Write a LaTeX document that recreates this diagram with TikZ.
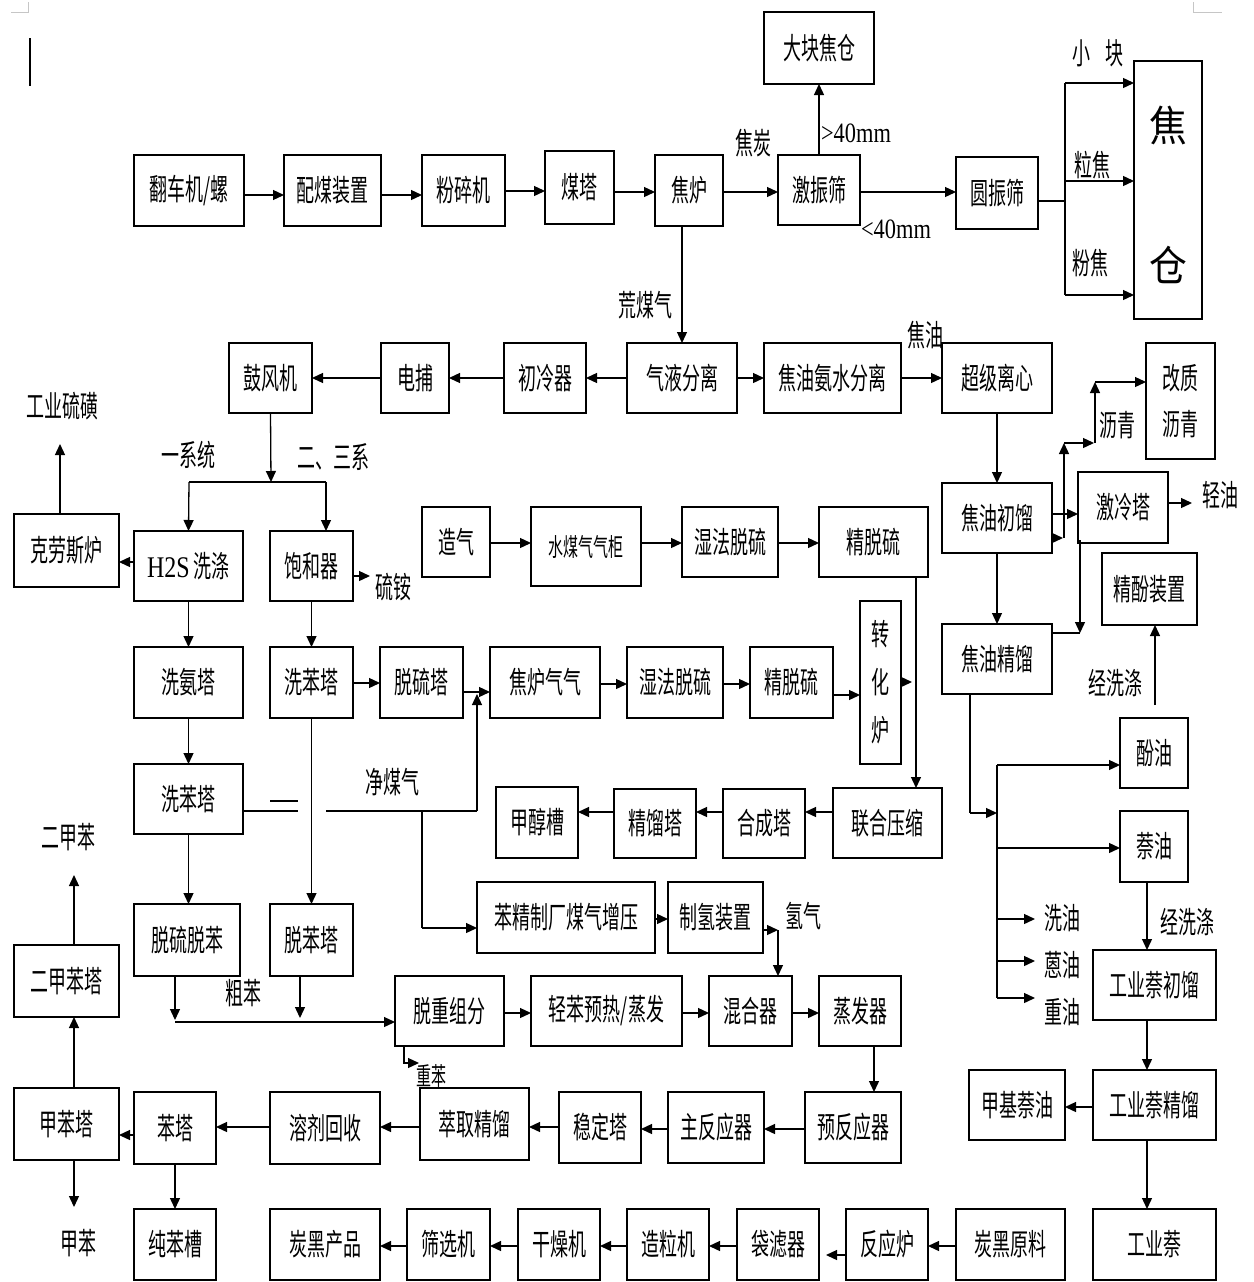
\documentclass[tikz,border=0pt]{standalone}
\usepackage{fontspec}
\setmainfont{Noto Sans CJK SC}[FakeStretch=0.6]
\newfontfamily\bigcjk{Noto Sans CJK SC}[FakeStretch=0.9]
\newfontfamily\ser{Liberation Serif}[FakeStretch=0.8]
\usetikzlibrary{arrows.meta}
\tikzset{
  box/.style={draw,line width=1.3pt,inner sep=0pt,outer sep=0pt,font=\fontsize{30}{32}\selectfont,align=center},
  arr/.style={line width=1.3pt,-{Triangle[length=11pt,width=10pt]}},
  ln/.style={line width=1.3pt},
  lbl/.style={font=\fontsize{30}{32}\selectfont,inner sep=0pt}
}
\newcommand{\bx}[6]{\node[box,minimum width={(#4-#2)*1pt},minimum height={(#5-#3)*1pt}] (#1) at ({(#2+#4)/2},{(#3+#5)/2}) {#6};}
\begin{document}
\begin{tikzpicture}[x=1pt,y=-1pt]
\useasboundingbox (0,0) rectangle (1253,1282);
% page marks
\draw[gray!45,line width=1pt] (11,12) -- (28,12) -- (28,2);
\draw[gray!45,line width=1pt] (1193,2) -- (1193,12) -- (1222,12);
\draw[line width=2pt] (30,38) -- (30,86);
% top row
\bx{fc}{134}{155}{244}{226}{翻车机/螺}
\bx{pm}{284}{155}{381}{226}{配煤装置}
\bx{fs}{422}{155}{505}{226}{粉碎机}
\bx{mt}{545}{151}{614}{224}{煤塔}
\bx{jl}{655}{155}{723}{226}{焦炉}
\bx{jzs}{778}{155}{860}{225}{激振筛}
\bx{dkj}{764}{12}{874}{84}{大块焦仓}
\bx{yzs}{956}{157}{1038}{229}{圆振筛}
\bx{jc}{1134}{61}{1202}{319}{}
\node[inner sep=0pt,font=\bigcjk\fontsize{42}{44}\selectfont] (jct1) at (1168,125) {焦};
\node[inner sep=0pt,font=\bigcjk\fontsize{42}{44}\selectfont] (jct2) at (1168,265) {仓};
% row 2
\bx{gfj}{229}{343}{312}{413}{鼓风机}
\bx{db}{381}{343}{449}{413}{电捕}
\bx{clq}{504}{343}{586}{413}{初冷器}
\bx{qyfl}{627}{343}{737}{413}{气液分离}
\bx{jyas}{764}{343}{901}{413}{焦油氨水分离}
\bx{cjlx}{942}{343}{1052}{413}{超级离心}
\node[box,minimum width=69pt,minimum height=116pt,font=\fontsize{30}{46}\selectfont] (gzlq) at (1180.5,401) {改质\\沥青};
% row 3
\bx{kls}{14}{514}{119}{587}{克劳斯炉}
\bx{h2s}{134}{531}{243}{601}{{\ser H2S} 洗涤}
\bx{bhq}{270}{531}{353}{601}{饱和器}
\bx{zq}{422}{507}{490}{577}{造气}
\node[box,minimum width=110pt,minimum height=79pt,font=\fontsize{25}{27}\selectfont] (smq) at (586,546.5) {水煤气气柜};
\bx{sf1}{682}{507}{778}{577}{湿法脱硫}
\bx{jts1}{819}{507}{928}{577}{精脱硫}
\bx{jycl}{942}{483}{1052}{553}{焦油初馏}
\bx{jlt}{1078}{472}{1168}{543}{激冷塔}
\bx{jfz}{1102}{553}{1197}{625}{精酚装置}
% row 4
\bx{xat}{134}{647}{243}{718}{洗氨塔}
\bx{xbt1}{270}{647}{353}{718}{洗苯塔}
\bx{tlt}{380}{647}{463}{718}{脱硫塔}
\bx{jlqq}{490}{647}{600}{718}{焦炉气气}
\bx{sf2}{627}{647}{723}{718}{湿法脱硫}
\bx{jts2}{750}{647}{833}{718}{精脱硫}
\node[box,minimum width=41pt,minimum height=163pt,font=\fontsize{30}{48}\selectfont] (zhl) at (880.5,682.5) {转\\化\\炉};
\bx{jyjl}{942}{624}{1052}{694}{焦油精馏}
% row 5
\bx{xbt2}{134}{764}{243}{834}{洗苯塔}
\bx{jcc}{496}{787}{578}{858}{甲醇槽}
\bx{jlt2}{614}{789}{696}{858}{精馏塔}
\bx{hct}{723}{789}{805}{858}{合成塔}
\bx{lhys}{833}{788}{942}{858}{联合压缩}
\bx{fy}{1120}{718}{1188}{788}{酚油}
\bx{ny}{1120}{811}{1188}{882}{萘油}
% row 6
\bx{bjz}{477}{882}{655}{953}{苯精制厂煤气增压}
\bx{zqz}{668}{882}{763}{953}{制氢装置}
\bx{tltb}{134}{904}{240}{976}{脱硫脱苯}
\bx{tbt}{270}{904}{353}{976}{脱苯塔}
\bx{ejbt}{14}{945}{119}{1017}{二甲苯塔}
\bx{gyc}{1093}{950}{1216}{1020}{工业萘初馏}
% row 7
\bx{tzz}{395}{976}{504}{1046}{脱重组分}
\bx{qbyr}{531}{976}{682}{1046}{轻苯预热/蒸发}
\bx{hhq}{709}{976}{792}{1046}{混合器}
\bx{zfq}{819}{976}{901}{1046}{蒸发器}
% row 8
\bx{jbt}{14}{1088}{119}{1160}{甲苯塔}
\bx{bt}{134}{1092}{216}{1164}{苯塔}
\bx{rjhs}{270}{1092}{380}{1164}{溶剂回收}
\bx{cqjl}{420}{1088}{529}{1160}{萃取精馏}
\bx{wdt}{559}{1092}{641}{1163}{稳定塔}
\bx{zfy}{668}{1092}{764}{1163}{主反应器}
\bx{yfy}{805}{1092}{901}{1163}{预反应器}
\bx{jjny}{969}{1070}{1065}{1140}{甲基萘油}
\bx{gyj}{1093}{1070}{1216}{1140}{工业萘精馏}
% row 9
\bx{cbt}{134}{1209}{216}{1280}{纯苯槽}
\bx{thcp}{270}{1209}{380}{1280}{炭黑产品}
\bx{sxj}{407}{1209}{490}{1280}{筛选机}
\bx{gzj}{518}{1209}{600}{1280}{干燥机}
\bx{zlj}{627}{1209}{709}{1280}{造粒机}
\bx{dlq}{737}{1209}{819}{1280}{袋滤器}
\bx{fyl}{846}{1209}{928}{1280}{反应炉}
\bx{thyl}{956}{1209}{1065}{1280}{炭黑原料}
\bx{gyn}{1093}{1209}{1216}{1280}{工业萘}
% labels
\node[lbl] (l1) at (753,143) {焦炭};
\node[lbl,font=\ser\fontsize{28}{30}\selectfont] (l2) at (856,133) {>40mm};
\node[lbl,font=\ser\fontsize{28}{30}\selectfont] (l3) at (896,229) {<40mm};
\node[lbl] (l4) at (1098,53) {小\hspace{16pt}块};
\node[lbl] (l5) at (1092,165) {粒焦};
\node[lbl] (l6) at (1090,263) {粉焦};
\node[lbl] (l7) at (645,305) {荒煤气};
\node[lbl] (l8) at (925,335) {焦油};
\node[lbl] (l9) at (62,406) {工业硫磺};
\node[lbl] (l10) at (188,455) {一系统};
\node[lbl] (l11) at (333,457) {二、三系};
\node[lbl] (l12) at (393,587) {硫铵};
\node[lbl] (l13) at (1117,425) {沥青};
\node[lbl] (l14) at (1220,495) {轻油};
\node[lbl] (l15) at (1115,683) {经洗涤};
\node[lbl] (l16) at (392,782) {净煤气};
\node[lbl] (l17) at (68,837) {二甲苯};
\node[lbl] (l18) at (803,916) {氢气};
\node[lbl] (l19) at (1187,922) {经洗涤};
\node[lbl] (l20) at (1062,918) {洗油};
\node[lbl] (l21) at (1062,965) {蒽油};
\node[lbl] (l22) at (1062,1012) {重油};
\node[lbl] (l23) at (243,993) {粗苯};
\node[lbl,font=\fontsize{25}{27}\selectfont] (l24) at (431,1076) {重苯};
\node[lbl] (l25) at (78,1243) {甲苯};
% coordinates
\coordinate (busJ) at (1065,201);
\coordinate (splitG) at (271,482);
\coordinate (hub) at (997,813);
% top connectors
\draw[arr] (fc.east |- 0,195) -- (pm.west |- 0,195);
\draw[arr] (pm.east |- 0,195) -- (fs.west |- 0,195);
\draw[arr] (fs.east |- 0,191) -- (mt.west |- 0,191);
\draw[arr] (mt.east |- 0,192) -- (jl.west |- 0,192);
\draw[arr] (jl.east |- 0,192) -- (jzs.west |- 0,192);
\draw[arr] (jzs.north) -- (dkj.south);
\draw[arr] (jzs.east |- 0,192) -- (yzs.west |- 0,192);
\draw[ln] (yzs.east |- busJ) -- (busJ);
\draw[ln] (1065,83) -- (1065,295);
\draw[arr] (1065,83) -- (jc.west |- 0,83);
\draw[arr] (1065,181) -- (jc.west |- 0,181);
\draw[arr] (1065,295) -- (jc.west |- 0,295);
\draw[arr] (jl.south -| qyfl.north) -- (qyfl.north);
% row 2
\draw[arr] (qyfl.west) -- (clq.east);
\draw[arr] (clq.west) -- (db.east);
\draw[arr] (db.west) -- (gfj.east);
\draw[arr] (qyfl.east) -- (jyas.west);
\draw[arr] (jyas.east) -- (cjlx.west);
\draw[arr] (cjlx.south) -- (jycl.north);
% blower split
\draw[arr] (gfj.south) -- (splitG);
\draw[ln] (189,482) -- (326,482);
\draw[arr] (189,482) -- (h2s.north);
\draw[arr] (326,482) -- (bhq.north -| 326,0);
\draw[arr] (h2s.west |- 0,562) -- (kls.east |- 0,562);
\draw[arr] (kls.north -| 60,0) -- (60,444);
\draw[arr] (bhq.east |- 0,576) -- (370,576);
\draw[arr] (h2s.south) -- (xat.north);
\draw[arr] (bhq.south) -- (xbt1.north);
\draw[arr] (xat.south) -- (xbt2.north);
\draw[arr] (xbt2.south) -- (tltb.north -| xbt2.south);
\draw[arr] (xbt1.south) -- (tbt.north -| xbt1.south);
% row 3 gas
\draw[arr] (zq.east |- 0,543) -- (smq.west |- 0,543);
\draw[arr] (smq.east |- 0,543) -- (sf1.west |- 0,543);
\draw[arr] (sf1.east |- 0,543) -- (jts1.west |- 0,543);
\draw[arr] (jts1.south -| 916,0) -- (lhys.north -| 916,0);
% row 4
\draw[arr] (xbt1.east |- 0,683) -- (tlt.west |- 0,683);
\draw[arr] (tlt.east |- 0,692) -- (jlqq.west |- 0,692);
\draw[arr] (jlqq.east |- 0,684) -- (sf2.west |- 0,684);
\draw[arr] (sf2.east |- 0,684) -- (jts2.west |- 0,684);
\draw[arr] (jts2.east |- 0,695) -- (zhl.west |- 0,695);
\draw[arr] (zhl.east |- 0,682) -- (912,682);
% row 5
\draw[arr] (lhys.west |- 0,812) -- (hct.east |- 0,812);
\draw[arr] (hct.west |- 0,812) -- (jlt2.east |- 0,812);
\draw[arr] (jlt2.west |- 0,812) -- (jcc.east |- 0,812);
% clean gas
\draw[ln] (xbt2.east |- 0,811) -- (298,811);
\draw[ln] (270,801) -- (298,801);
\draw[ln] (326,811) -- (477,811);
\draw[arr] (477,811) -- (477,694);
\draw[ln] (422,811) -- (422,928);
\draw[arr] (422,928) -- (bjz.west |- 0,928);
\draw[arr] (bjz.east |- 0,919) -- (zqz.west |- 0,919);
\draw[arr] (zqz.east |- 0,930) -- (778,930);
\draw[arr] (778,930) -- (hhq.north -| 778,0);
% crude benzene
\draw[arr] (tltb.south -| 175,0) -- (175,1020);
\draw[arr] (tbt.south -| 300,0) -- (300,1018);
\draw[arr] (175,1022) -- (tzz.west |- 0,1022);
\draw[arr] (tzz.east |- 0,1013) -- (qbyr.west |- 0,1013);
\draw[arr] (qbyr.east |- 0,1013) -- (hhq.west |- 0,1013);
\draw[arr] (hhq.east |- 0,1013) -- (zfq.west |- 0,1013);
\draw[arr] (zfq.south -| 874,0) -- (yfy.north -| 874,0);
\draw[arr] (tzz.south -| 404,0) |- (419,1063);
% row 8
\draw[arr] (yfy.west |- 0,1129) -- (zfy.east |- 0,1129);
\draw[arr] (zfy.west |- 0,1129) -- (wdt.east |- 0,1129);
\draw[arr] (wdt.west |- 0,1127) -- (cqjl.east |- 0,1127);
\draw[arr] (cqjl.west |- 0,1127) -- (rjhs.east |- 0,1127);
\draw[arr] (rjhs.west |- 0,1127) -- (bt.east |- 0,1127);
\draw[arr] (bt.west |- 0,1135) -- (jbt.east |- 0,1135);
\draw[arr] (jbt.north -| 74,0) -- (ejbt.south -| 74,0);
\draw[arr] (ejbt.north -| 74,0) -- (74,875);
\draw[arr] (jbt.south -| 74,0) -- (74,1207);
\draw[arr] (bt.south -| 175,0) -- (cbt.north -| 175,0);
% row 9
\draw[arr] (thyl.west |- 0,1246) -- (fyl.east |- 0,1246);
\draw[arr] (fyl.west |- 0,1255) -- (826,1255);
\draw[arr] (dlq.west |- 0,1246) -- (zlj.east |- 0,1246);
\draw[arr] (zlj.west |- 0,1246) -- (gzj.east |- 0,1246);
\draw[arr] (gzj.west |- 0,1246) -- (sxj.east |- 0,1246);
\draw[arr] (sxj.west |- 0,1246) -- (thcp.east |- 0,1246);
% tar section
\draw[arr] (jycl.east |- 0,514) -- (jlt.west |- 0,514);
\draw[arr] (jycl.east |- 0,538) -- (1063,538);
\draw[arr] (1064,538) -- (1064,443);
\draw[arr] (1064,443) -- (1094,443);
\draw[arr] (1095,443) -- (1095,382);
\draw[arr] (1095,382) -- (gzlq.west |- 0,382);
\draw[ln] (jyjl.east |- 0,633) -- (1080,633);
\draw[arr] (1080,540) -- (1080,633);
\draw[arr] (jlt.east |- 0,503) -- (1192,503);
\draw[arr] (1155,705) -- (jfz.south -| 1155,0);
\draw[arr] (jycl.south) -- (jyjl.north);
\draw[ln] (jyjl.south -| 970,0) -- (970,813);
\draw[arr] (970,813) -- (hub);
\draw[ln] (997,765) -- (997,998);
\draw[arr] (997,765) -- (fy.west |- 0,765);
\draw[arr] (997,848) -- (ny.west |- 0,848);
\draw[arr] (997,919) -- (1035,919);
\draw[arr] (997,961) -- (1035,961);
\draw[arr] (997,998) -- (1035,998);
\draw[arr] (ny.south -| 1147,0) -- (gyc.north -| 1147,0);
\draw[arr] (gyc.south -| 1147,0) -- (gyj.north -| 1147,0);
\draw[arr] (gyj.west |- 0,1107) -- (jjny.east |- 0,1107);
\draw[arr] (gyj.south -| 1147,0) -- (gyn.north -| 1147,0);
\end{tikzpicture}
\end{document}
